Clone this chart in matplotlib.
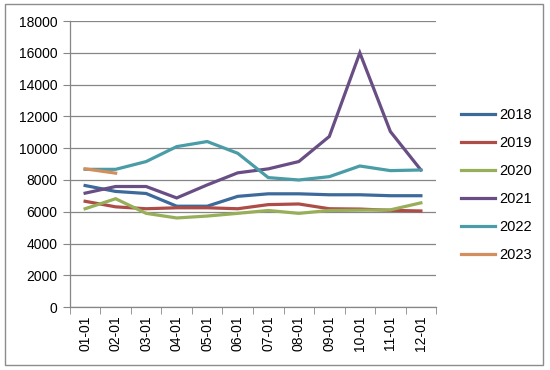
import matplotlib.pyplot as plt
from matplotlib.patches import Rectangle

months = ['01-01', '02-01', '03-01', '04-01', '05-01', '06-01',
          '07-01', '08-01', '09-01', '10-01', '11-01', '12-01']

y2018 = [7650, 7280, 7150, 6350, 6350, 6970, 7130, 7130, 7070, 7070, 7010, 7010]
y2019 = [6660, 6310, 6190, 6250, 6250, 6190, 6450, 6490, 6190, 6170, 6090, 6050]
y2020 = [6190, 6820, 5900, 5610, 5730, 5900, 6080, 5900, 6080, 6100, 6120, 6560]
y2021 = [7170, 7590, 7590, 6870, 7690, 8450, 8700, 9160, 10740, 16000, 11050, 8630]
y2022 = [8670, 8670, 9160, 10100, 10420, 9680, 8150, 8000, 8210, 8880, 8590, 8630]
y2023 = [8700, 8430]

series = [('2018', y2018, '#3D6A9A'),
          ('2019', y2019, '#AE4C48'),
          ('2020', y2020, '#96AF58'),
          ('2021', y2021, '#684E84'),
          ('2022', y2022, '#4A9CA6'),
          ('2023', y2023, '#D48E5E')]

plt.rcParams['font.family'] = ['Liberation Sans', 'DejaVu Sans']

fig = plt.figure(figsize=(5.5, 3.7), dpi=100)
ax = fig.add_axes([0.127, 0.170, 0.666, 0.773])

for name, vals, col in series:
    ax.plot(range(len(vals)), vals, color=col, lw=2.3, label=name,
            solid_joinstyle='miter')

ax.set_ylim(0, 18000)
ax.set_yticks(range(0, 18001, 2000))
ax.set_xlim(-0.5, 11.5)
ax.set_xticks(range(12))
ax.set_xticklabels(months, rotation=90, fontsize=10)
ax.set_xticks([i - 0.5 for i in range(13)], minor=True)
ax.tick_params(axis='x', which='major', length=0, pad=6)
ax.tick_params(axis='x', which='minor', length=5, color='#868686', direction='out')
ax.tick_params(axis='y', length=5, color='#868686', labelsize=10, pad=4)

ax.grid(axis='y', color='#868686', lw=0.9)
ax.set_axisbelow(True)
for s in ['top', 'right']:
    ax.spines[s].set_visible(False)
for s in ['left', 'bottom']:
    ax.spines[s].set_color('#868686')
    ax.spines[s].set_linewidth(0.9)

fig.legend(loc='center left', bbox_to_anchor=(0.815, 0.50), frameon=False,
           fontsize=10.5, handlelength=2.3, labelspacing=0.95, handletextpad=0.3)

# chart area border
fig.patches.append(Rectangle((0.009, 0.013), 0.978, 0.975, transform=fig.transFigure,
                             fill=False, edgecolor='#8c8c8c', lw=1))

fig.savefig('out.png', dpi=100)
